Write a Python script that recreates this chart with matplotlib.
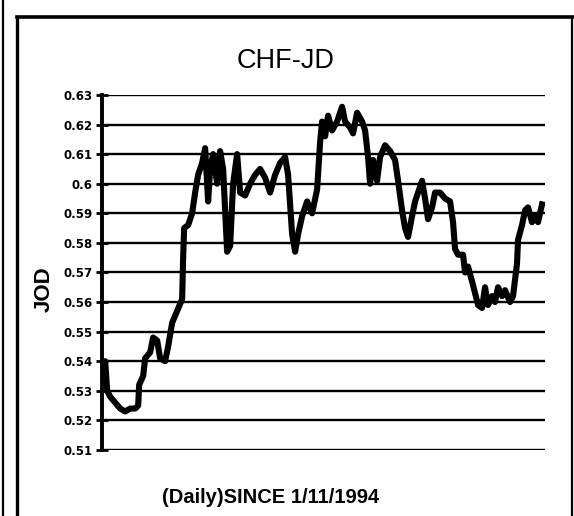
import matplotlib.pyplot as plt
from matplotlib.lines import Line2D

# trading days since 1/11/1994 and CHF-JD rate
days = [0, 3, 5, 8, 13, 18, 23, 28, 33, 36, 37, 41, 43, 48, 51, 55, 58, 63, 66, 70,
        75, 80, 81, 82, 86, 90, 93, 96, 100, 103, 106, 108, 111, 115, 118, 121, 125,
        128, 131, 135, 138, 143, 148, 153, 158, 163, 168, 173, 178, 183, 186, 190,
        193, 196, 200, 205, 210, 215, 218, 220, 223, 226, 230, 235, 240, 243, 248,
        251, 255, 260, 263, 266, 268, 271, 275, 278, 283, 288, 293, 296, 300, 303,
        306, 310, 313, 316, 320, 323, 326, 330, 333, 338, 343, 348, 351, 353, 356,
        361, 363, 366, 370, 373, 376, 380, 383, 386, 390, 393, 396, 400, 403, 408,
        411, 415, 416, 420, 423, 426, 430, 433, 436, 440]
rates = [0.535, 0.540, 0.530, 0.528, 0.526, 0.524, 0.523, 0.524, 0.524, 0.525, 0.532,
         0.535, 0.541, 0.543, 0.548, 0.547, 0.541, 0.540, 0.545, 0.553, 0.557, 0.561,
         0.575, 0.585, 0.586, 0.590, 0.597, 0.603, 0.607, 0.612, 0.594, 0.605, 0.610,
         0.600, 0.611, 0.605, 0.577, 0.579, 0.600, 0.610, 0.597, 0.596, 0.600, 0.603,
         0.605, 0.602, 0.597, 0.603, 0.607, 0.609, 0.603, 0.583, 0.577, 0.583, 0.589,
         0.594, 0.590, 0.598, 0.614, 0.621, 0.616, 0.623, 0.618, 0.621, 0.626, 0.621,
         0.619, 0.617, 0.624, 0.621, 0.618, 0.609, 0.600, 0.608, 0.601, 0.609, 0.613,
         0.611, 0.608, 0.601, 0.591, 0.585, 0.582, 0.589, 0.594, 0.597, 0.601, 0.595,
         0.588, 0.592, 0.597, 0.597, 0.595, 0.594, 0.587, 0.578, 0.576, 0.576, 0.570,
         0.572, 0.567, 0.563, 0.559, 0.558, 0.565, 0.559, 0.562, 0.560, 0.565, 0.562,
         0.564, 0.560, 0.562, 0.573, 0.581, 0.586, 0.591, 0.592, 0.587, 0.589, 0.587,
         0.593]

y_ticks = [0.51, 0.52, 0.53, 0.54, 0.55, 0.56, 0.57, 0.58, 0.59, 0.60, 0.61, 0.62, 0.63]
y_labels = ["0.51", "0.52", "0.53", "0.54", "0.55", "0.56", "0.57", "0.58", "0.59",
            "0.6", "0.61", "0.62", "0.63"]

plt.rcParams["font.family"] = ["Liberation Sans", "DejaVu Sans"]

fig = plt.figure(figsize=(5.74, 5.16), dpi=100)
ax = fig.add_axes([0.178, 0.128, 0.7715, 0.688])

for y in y_ticks:
    ax.axhline(y, color="black", lw=1.7, zorder=1)
ax.plot(days, rates, color="black", lw=4.4, solid_joinstyle="round", zorder=3)

ax.set_xlim(0, 443)
ax.set_ylim(0.51, 0.63)
ax.set_xticks([])
ax.set_yticks(y_ticks)
ax.set_yticklabels(y_labels, fontsize=8.5, fontweight="bold", family="DejaVu Sans")
ax.tick_params(axis="y", direction="inout", length=8, width=2, pad=3)
for side in ["top", "right", "bottom"]:
    ax.spines[side].set_visible(False)
ax.spines["left"].set_linewidth(2.8)

ax.set_ylabel("JOD", fontsize=16, fontweight="bold", labelpad=0)
ax.yaxis.set_label_coords(-0.108, 0.453)

fig.text(0.497, 0.882, "CHF-JD", fontsize=19.5, ha="center", va="center")
fig.text(0.472, 0.036, "(Daily)SINCE 1/11/1994", fontsize=14.5, fontweight="bold",
         ha="center", va="center")

# scanned frame around the chart
fig.add_artist(Line2D([0.030, 0.030], [0.0, 0.967], color="black", lw=2.4))
fig.add_artist(Line2D([0.030, 1.0], [0.967, 0.967], color="black", lw=2.6))
fig.add_artist(Line2D([0.996, 0.996], [0.0, 0.967], color="black", lw=1.6))
fig.add_artist(Line2D([0.005, 0.005], [0.0, 1.0], color="black", lw=1.6))

fig.savefig("out.png", dpi=100)
